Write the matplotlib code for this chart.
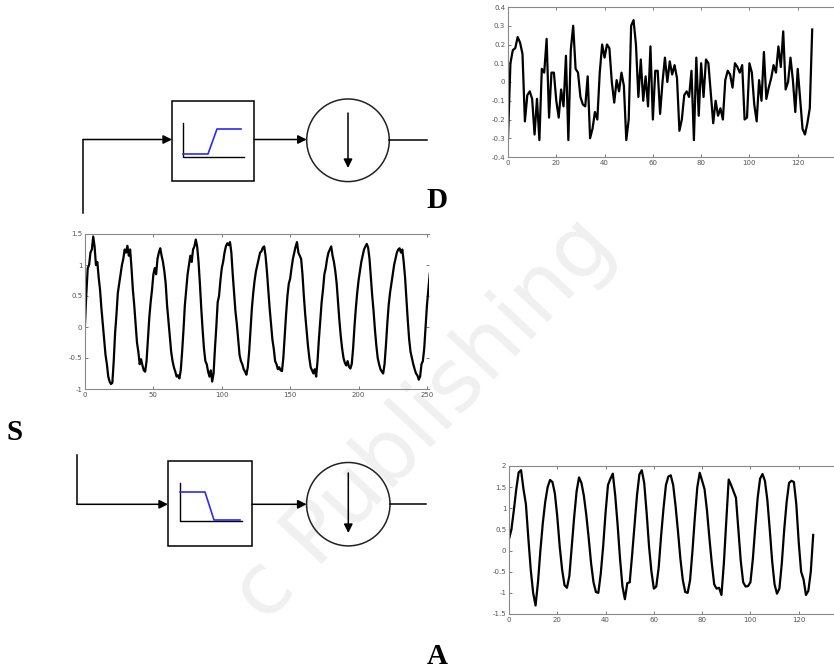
import matplotlib
matplotlib.use("Agg")
import matplotlib.pyplot as plt
from matplotlib.patches import Rectangle, Circle
from matplotlib.ticker import FuncFormatter

# detail signal D (127 samples)
d_vals = [-0.30, 0.10, 0.17, 0.18, 0.24, 0.21, 0.15, -0.21, -0.07, -0.05,
          -0.09, -0.28, -0.09, -0.31, 0.07, 0.05, 0.23, -0.19, 0.05, 0.05,
          -0.10, -0.19, -0.04, -0.13, 0.14, -0.31, 0.17, 0.30, 0.07, 0.05,
          -0.08, -0.12, -0.13, 0.03, -0.30, -0.25, -0.16, -0.20, 0.05, 0.20,
          0.13, 0.20, 0.18, 0.00, -0.11, 0.01, -0.05, 0.05, -0.02, -0.31,
          -0.20, 0.30, 0.33, 0.20, -0.08, 0.12, -0.10, 0.03, -0.13, 0.19,
          -0.20, 0.06, 0.06, -0.17, 0.00, 0.13, 0.00, 0.11, 0.04, 0.09,
          0.02, -0.26, -0.20, -0.07, -0.05, -0.08, 0.06, -0.31, 0.13, -0.18,
          0.10, -0.08, 0.12, 0.10, -0.06, -0.22, -0.10, -0.18, -0.14, -0.20,
          0.01, 0.06, 0.04, -0.03, 0.10, 0.08, 0.05, 0.09, -0.20, -0.19,
          0.10, 0.05, -0.12, -0.21, 0.01, -0.10, 0.16, -0.09, -0.03, 0.02,
          0.09, 0.05, 0.19, 0.08, 0.27, -0.04, 0.00, 0.13, 0.01, -0.16,
          0.07, -0.09, -0.25, -0.28, -0.22, -0.14, 0.28]

# original signal S (256 samples)
s_vals = [0.05, 0.55, 0.95, 1.0, 1.2, 1.25, 1.46,
          1.3, 1.0, 1.05, 0.8, 0.6, 0.3, 0.05, -0.2, -0.45, -0.6, -0.8, -0.88, -0.92,
          -0.9, -0.55, -0.1, 0.2, 0.55, 0.7, 0.85, 1.0, 1.1, 1.25, 1.2, 1.31,
          1.15, 1.25, 0.95, 0.6, 0.35, 0.05, -0.25, -0.4, -0.6, -0.52, -0.62, -0.7, -0.72,
          -0.55, -0.2, 0.15, 0.4, 0.6, 0.85, 0.95, 0.85, 1.1, 1.2, 1.27,
          1.15, 1.05, 0.9, 0.7, 0.35, 0.1, -0.15, -0.4, -0.55, -0.65, -0.72, -0.8, -0.78, -0.83,
          -0.7, -0.4, -0.05, 0.35, 0.6, 0.85, 1.0, 1.15, 1.05, 1.25, 1.3, 1.41,
          1.3, 1.05, 0.7, 0.3, -0.05, -0.35, -0.55, -0.6, -0.72, -0.8, -0.7, -0.88,
          -0.75, -0.35, 0.0, 0.4, 0.5, 0.75, 0.95, 1.05, 1.2, 1.3, 1.35, 1.32, 1.37,
          1.2, 0.85, 0.55, 0.25, 0.05, -0.2, -0.45, -0.55, -0.6, -0.68, -0.72, -0.77,
          -0.65, -0.4, -0.05, 0.3, 0.55, 0.75, 0.9, 1.0, 1.1, 1.2, 1.22, 1.28, 1.3,
          1.15, 0.9, 0.6, 0.3, 0.05, -0.2, -0.35, -0.55, -0.6, -0.68, -0.65, -0.7, -0.71,
          -0.5, -0.15, 0.2, 0.5, 0.7, 0.78, 0.95, 1.1, 1.2, 1.3, 1.37,
          1.2, 1.15, 1.1, 0.85, 0.5, 0.2, -0.05, -0.3, -0.5, -0.65, -0.7, -0.75, -0.68, -0.8,
          -0.55, -0.2, 0.1, 0.4, 0.6, 0.85, 0.95, 1.1, 1.2, 1.25, 1.3,
          1.15, 1.05, 0.9, 0.7, 0.4, 0.1, -0.15, -0.35, -0.5, -0.58, -0.62, -0.55, -0.64, -0.67,
          -0.6, -0.35, 0.0, 0.3, 0.55, 0.75, 0.9, 1.05, 1.15, 1.25, 1.3, 1.34,
          1.28, 1.1, 0.8, 0.5, 0.25, -0.05, -0.3, -0.5, -0.6, -0.68, -0.72, -0.75,
          -0.6, -0.3, 0.05, 0.35, 0.55, 0.7, 0.85, 1.0, 1.1, 1.2, 1.25, 1.27,
          1.2, 1.25, 1.05, 0.8, 0.45, 0.1, -0.2, -0.4, -0.5, -0.6, -0.68, -0.75, -0.78, -0.85,
          -0.8, -0.6, -0.55, -0.35, 0.0, 0.35, 0.6, 0.85, 1.0, 1.1, 1.2]

# approximation A (127 samples)
a_vals = [0.27, 0.5, 0.95, 1.45, 1.85, 1.9, 1.45, 1.1, 0.3, -0.45,
          -1.0, -1.3, -0.75, 0.0, 0.65, 1.15, 1.5, 1.67, 1.62, 1.35,
          0.8, 0.1, -0.45, -0.82, -0.88, -0.6, 0.1, 0.8, 1.4, 1.73,
          1.6, 1.3, 0.85, 0.3, -0.3, -0.75, -0.98, -1.0, -0.55, 0.1,
          0.9, 1.55, 1.7, 1.82, 1.3, 0.6, -0.2, -0.85, -1.15, -0.77,
          -0.75, -0.1, 0.6, 1.3, 1.8, 1.9, 1.6, 0.9, 0.1, -0.5,
          -0.9, -0.85, -0.4, 0.35, 1.0, 1.55, 1.75, 1.78, 1.55, 1.05,
          0.45, -0.2, -0.7, -0.98, -1.0, -0.7, 0.0, 0.8, 1.5, 1.84,
          1.65, 1.45, 0.95, 0.3, -0.3, -0.8, -0.9, -0.88, -1.05, -0.3,
          0.7, 1.68, 1.55, 1.4, 1.25, 0.5, -0.25, -0.75, -0.85, -0.84,
          -0.75, -0.2, 0.55, 1.25, 1.7, 1.81, 1.65, 1.2, 0.5, -0.25,
          -0.8, -1.02, -0.9, -0.3, 0.5, 1.15, 1.6, 1.65, 1.62, 1.1,
          0.2, -0.5, -0.68, -1.05, -0.95, -0.5, 0.37]

d_yticks = [-0.4, -0.3, -0.2, -0.1, 0, 0.1, 0.2, 0.3, 0.4]
s_yticks = [-1, -0.5, 0, 0.5, 1, 1.5]
a_yticks = [-1.5, -1, -0.5, 0, 0.5, 1, 1.5, 2]
short_xticks = [0, 20, 40, 60, 80, 100, 120]
long_xticks = [0, 50, 100, 150, 200, 250]

W, H = 834, 669
fig = plt.figure(figsize=(W / 100, H / 100), dpi=100)

# overlay in pixel coordinates for the block diagram
bg = fig.add_axes([0, 0, 1, 1])
bg.set_xlim(0, W)
bg.set_ylim(H, 0)
bg.axis("off")

# faint publisher watermark
bg.text(425, 420, "c Publishing", fontsize=62, rotation=47, color="#f0f0f0",
        ha="center", va="center", family="DejaVu Sans", zorder=0)

def arrow(x0, y0, x1, y1):
    bg.annotate("", xy=(x1, y1), xytext=(x0, y0),
                arrowprops=dict(arrowstyle="-|>", color="black", lw=1.1,
                                mutation_scale=13, shrinkA=0, shrinkB=0))

def branch(box, yline, xin, circ, down, xout, curve, frame):
    bx0, by0, bx1, by1 = box
    bg.add_patch(Rectangle((bx0, by0), bx1 - bx0, by1 - by0, fill=False,
                           ec="black", lw=1.1))
    arrow(xin, yline, bx0, yline)
    cx, cy, r = circ
    arrow(bx1, yline, cx - r, yline)
    bg.add_patch(Circle((cx, cy), r, fill=False, ec="#222222", lw=1.1))
    arrow(cx, down[0], cx, down[1])
    bg.plot([cx + r, xout], [yline, yline], color="black", lw=1.1)
    fx, fy0, fy1, fx1 = frame
    bg.plot([fx, fx, fx1], [fy0, fy1, fy1], color="black", lw=1.0)
    bg.plot(curve[0], curve[1], color="#2a2aff", lw=1.2)

# high-pass branch
bg.plot([83, 83], [213, 139.5], color="black", lw=1.1)
branch((172, 101, 254, 181), 139.5, 83, (348, 140.3, 41.3), (113, 168), 427,
       ([183, 208, 217, 241], [154, 154, 129, 129]), (183, 123, 157, 244))

# low-pass branch
bg.plot([77, 77], [455, 504.3], color="black", lw=1.1)
branch((168, 461, 252, 546), 504.3, 77, (348.3, 504.2, 41.7), (473, 533), 426,
       ([180, 205, 214, 240], [492, 492, 520, 520]), (180, 483, 521, 242))

for lbl, x, y in [("D", 437, 200), ("S", 15, 432), ("A", 437, 657)]:
    bg.text(x, y, lbl, fontsize=21, fontweight="bold", family="Liberation Serif",
            ha="center", va="center")

fmt = FuncFormatter(lambda v, p: "%g" % v)

def signal_axes(left, top, right, bottom, vals, xlim, ylim, xt, yt):
    ax = fig.add_axes([left / W, 1 - bottom / H, (right - left) / W, (bottom - top) / H])
    ax.set_facecolor("none")
    ax.plot(range(len(vals)), vals, color="black", lw=1.6)
    ax.set_xlim(*xlim)
    ax.set_ylim(*ylim)
    ax.set_xticks(xt)
    ax.set_yticks(yt)
    ax.xaxis.set_major_formatter(fmt)
    ax.yaxis.set_major_formatter(fmt)
    ax.tick_params(direction="in", length=2.5, width=0.6, labelsize=5,
                   labelcolor="#555555", color="#666666", top=True, right=True, pad=2)
    for sp in ax.spines.values():
        sp.set_color("#888888")
        sp.set_linewidth(0.8)
    ax.spines["right"].set_visible(False)
    return ax

signal_axes(508, 7, 846, 157, d_vals, (0, 140), (-0.4, 0.4), short_xticks, d_yticks)
signal_axes(85, 234, 429, 389, s_vals, (0, 251.5), (-1, 1.5), long_xticks, s_yticks)
signal_axes(509, 466, 847, 614, a_vals, (0, 140), (-1.5, 2), short_xticks, a_yticks)

fig.savefig("out.png", dpi=100)
